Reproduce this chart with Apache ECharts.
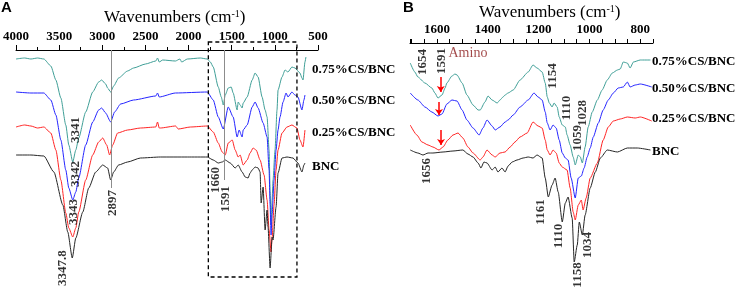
<!DOCTYPE html>
<html>
<head>
<meta charset="utf-8">
<script src="https://cdn.jsdelivr.net/npm/echarts@6/dist/echarts.min.js"></script>
<style>
html, body { margin: 0; padding: 0; background: #fff; }
#chart { width: 737px; height: 290px; }
</style>
</head>
<body>
<div id="chart"></div>
<script>
// FTIR spectra: [wavenumber cm-1, transmittance (a.u., stacked)]
var seriesNames = ['0.75%CS/BNC', '0.50%CS/BNC', '0.25%CS/BNC', 'BNC'];

// panel A, 4000-650 cm-1
var tealA = [[4000,241],[3900,242],[3827,241],[3750,242],[3677,241],[3596,234],[3538,220],[3480,202],[3423,175],[3388,155],[3342,138],[3307,150],[3273,162],[3192,188],[3111,208],[3042,218],[3007,220],[2961,216],[2938,212],[2903,208],[2868,214],[2811,222],[2707,229],[2637,232],[2499,236],[2380,239],[2360,242],[2340,238],[2300,240],[2152,239],[2100,241],[2080,238],[2014,241],[1864,242],[1783,241],[1748,238],[1714,233],[1656,213],[1621,203],[1598,195],[1575,205],[1540,212],[1506,213],[1483,207],[1437,190],[1425,198],[1402,195],[1379,192],[1367,197],[1321,203],[1263,220],[1229,227],[1194,223],[1148,203],[1113,190],[1090,183],[1067,150],[1055,110],[1044,75],[1032,100],[1021,120],[998,150],[975,190],[963,210],[917,223],[882,230],[848,228],[802,233],[767,232],[709,227],[686,222],[674,220],[651,238],[640,243]];
var blueA = [[4000,208],[3827,207],[3677,207],[3596,200],[3538,185],[3480,160],[3423,130],[3388,112],[3342,100],[3307,108],[3273,122],[3192,155],[3111,178],[3042,190],[3007,192],[2961,187],[2903,178],[2857,188],[2788,196],[2637,200],[2380,204],[2360,207],[2340,203],[2152,207],[1783,208],[1714,200],[1656,183],[1598,171],[1540,193],[1483,183],[1437,163],[1414,170],[1379,163],[1367,170],[1321,175],[1263,193],[1229,198],[1194,192],[1136,177],[1090,163],[1067,130],[1055,95],[1044,65],[1032,85],[1009,120],[986,150],[963,170],[940,183],[905,198],[870,207],[848,203],[802,208],[767,205],[732,203],[686,190],[663,200],[651,205]];
var redA = [[4000,173],[3900,175],[3827,174],[3750,172],[3677,173],[3596,167],[3538,150],[3480,120],[3423,87],[3388,72],[3342,63],[3307,72],[3273,88],[3192,120],[3111,145],[3042,158],[2995,162],[2949,155],[2915,145],[2880,155],[2822,167],[2707,170],[2557,172],[2380,173],[2360,178],[2340,172],[2326,172],[2150,174],[2120,171],[1979,173],[1783,174],[1714,168],[1656,157],[1610,148],[1575,145],[1540,157],[1494,160],[1460,150],[1425,143],[1402,145],[1367,135],[1321,140],[1287,147],[1252,152],[1217,150],[1171,140],[1125,125],[1090,100],[1067,70],[1044,48],[1032,62],[1009,95],[986,130],[963,150],[917,167],[859,173],[802,175],[744,172],[709,160],[674,153],[651,170]];
var blackA = [[4000,145],[3827,145],[3677,144],[3561,128],[3457,95],[3400,68],[3348,42],[3307,62],[3226,88],[3157,112],[3076,128],[2995,135],[2938,132],[2903,120],[2868,128],[2811,135],[2707,138],[2557,142],[2326,143],[2014,143],[1783,143],[1714,140],[1656,137],[1610,138],[1575,140],[1517,137],[1460,132],[1425,135],[1379,128],[1344,123],[1310,122],[1287,127],[1263,130],[1229,133],[1194,132],[1171,128],[1159,97],[1136,113],[1113,70],[1090,90],[1079,73],[1055,32],[1032,63],[1021,60],[986,93],[963,127],[917,142],[859,143],[790,142],[732,137],[686,128],[663,135],[651,137]];

// panel B, 1705-755 cm-1
var tealB = [[1705,237],[1687,228],[1675,223],[1647,217],[1620,212],[1608,207],[1596,202],[1580,205],[1568,212],[1561,217],[1541,224],[1529,226],[1521,225],[1501,217],[1482,205],[1458,195],[1438,190],[1430,190],[1411,198],[1399,204],[1383,200],[1363,197],[1352,200],[1340,203],[1332,205],[1320,207],[1300,210],[1273,220],[1241,228],[1222,235],[1206,232],[1186,228],[1174,217],[1166,203],[1158,197],[1147,193],[1139,197],[1127,193],[1119,183],[1107,175],[1095,173],[1088,165],[1076,155],[1064,143],[1056,135],[1044,145],[1036,143],[1028,137],[1017,153],[1005,173],[989,188],[969,200],[950,210],[930,220],[910,227],[890,230],[879,231],[867,238],[851,237],[840,232],[827,238],[800,240],[760,240]];
var blueB = [[1705,207],[1675,200],[1647,193],[1620,188],[1596,184],[1580,186],[1561,196],[1541,200],[1521,199],[1501,190],[1482,180],[1458,172],[1434,165],[1419,172],[1403,180],[1383,174],[1371,170],[1352,173],[1332,178],[1320,180],[1300,185],[1273,193],[1241,200],[1218,207],[1202,203],[1186,200],[1174,188],[1166,177],[1155,170],[1143,175],[1131,172],[1119,160],[1107,147],[1095,142],[1084,140],[1072,122],[1056,102],[1044,122],[1032,124],[1021,132],[1009,143],[997,152],[985,163],[965,177],[946,190],[926,200],[906,207],[887,212],[867,213],[851,218],[840,213],[820,215],[800,216],[755,213]];
var redB = [[1705,175],[1679,165],[1659,158],[1635,155],[1616,153],[1592,150],[1576,153],[1557,160],[1537,165],[1517,167],[1498,162],[1478,153],[1458,147],[1430,140],[1419,143],[1403,150],[1383,145],[1371,143],[1352,147],[1332,148],[1312,153],[1293,158],[1273,163],[1245,167],[1222,178],[1202,174],[1186,172],[1174,160],[1166,150],[1155,145],[1143,150],[1131,147],[1119,137],[1107,133],[1088,130],[1076,112],[1064,88],[1056,80],[1044,95],[1032,100],[1025,90],[1013,102],[997,122],[969,137],[946,160],[926,173],[906,179],[879,181],[851,183],[820,182],[800,183],[755,179]];
var blackB = [[1705,150],[1675,147],[1655,145],[1635,147],[1616,147],[1576,148],[1537,149],[1498,150],[1478,146],[1458,143],[1438,137],[1427,132],[1415,138],[1403,137],[1383,130],[1371,133],[1360,128],[1344,132],[1332,128],[1320,134],[1304,138],[1285,140],[1261,142],[1241,143],[1222,142],[1206,145],[1186,142],[1174,122],[1162,103],[1147,115],[1135,122],[1123,108],[1107,78],[1095,97],[1084,103],[1068,82],[1060,38],[1048,55],[1040,78],[1028,65],[1017,85],[997,112],[977,128],[957,142],[930,150],[890,148],[851,152],[812,152],[760,150]];

var tickLabelsB = [800, 1000, 1200, 1400, 1600];

// peak annotations: [text, wavenumber, value]
var peaksA = [['3341',3307,170],['3342',3307,126],['3343',3330,88],['3347.8',3457,32],['2897',2880,97],['1660',1691,120],['1591',1575,101]];
var peaksB = [['1654',1655,238],['1591',1580,239],['1154',1143,224],['1110',1088,192],['1028',1025,187],['1059',1048,162],['1656',1639,129],['1161',1194,88],['1110',1123,64],['1158',1048,25],['1034',1009,55]];
var guideA = [[2897,112],[1591,120]];          // gray guide lines [wavenumber, bottom value]
var arrowsB = [[1585,223,208],[1592,198,185],[1584,170,155]];  // amino arrows [wn, from, to]
var boxA = [[1771,258],[744,23]];              // dashed zoom box

var colors = ['#3f9f97', '#2424ff', '#ff2424', '#262626'];
var serif = '"Liberation Serif", "Times New Roman", serif';

var chart = echarts.init(document.getElementById('chart'), null, { renderer: 'canvas' });

function xAxisStyle(grid) {
  return {
    type: 'value', gridIndex: grid, position: 'top', inverse: true,
    axisLine: { show: true, lineStyle: { color: '#000', width: 1 } },
    axisTick: { show: true, inside: false, length: 5, lineStyle: { color: '#000' } },
    axisLabel: { color: '#000', fontFamily: serif, fontWeight: 'bold', fontSize: 13, margin: 7,
                 formatter: function (v) { return String(v); } },
    splitLine: { show: false }
  };
}

var xA = xAxisStyle(0);
xA.min = 500; xA.max = 4000; xA.interval = 500;
xA.minorTick = { show: true, splitNumber: 2, length: 3, lineStyle: { color: '#000' } };

var xB = xAxisStyle(1);
xB.min = 750; xB.max = 1706; xB.interval = 50;
xB.axisTick.length = 4;
xB.axisLabel.interval = 0;
xB.axisLabel.formatter = function (v) { return tickLabelsB.indexOf(v) >= 0 ? String(v) : ''; };

function spectrum(name, data, idx, grid) {
  return {
    name: name, type: 'line', data: data, xAxisIndex: grid, yAxisIndex: grid,
    showSymbol: false, smooth: 0.2, smoothMonotone: 'x', silent: true,
    lineStyle: { color: colors[idx], width: 1 }, itemStyle: { color: colors[idx] }
  };
}

function peakSeries(list, grid) {
  return {
    type: 'scatter', xAxisIndex: grid, yAxisIndex: grid, symbolSize: 0, silent: true, z: 5,
    data: list.map(function (p) { return { name: p[0], value: [p[1], p[2]] }; }),
    label: { show: true, position: 'inside', rotate: 90, formatter: '{b}', color: '#000',
             fontFamily: serif, fontWeight: 'bold', fontSize: 13 }
  };
}

var seriesList = [
  spectrum(seriesNames[0], tealA, 0, 0),
  spectrum(seriesNames[1], blueA, 1, 0),
  spectrum(seriesNames[2], redA, 2, 0),
  spectrum(seriesNames[3], blackA, 3, 0),
  spectrum(seriesNames[0], tealB, 0, 1),
  spectrum(seriesNames[1], blueB, 1, 1),
  spectrum(seriesNames[2], redB, 2, 1),
  spectrum(seriesNames[3], blackB, 3, 1),
  peakSeries(peaksA, 0),
  peakSeries(peaksB, 1),
  {
    type: 'scatter', xAxisIndex: 1, yAxisIndex: 1, symbolSize: 0, silent: true,
    data: [{ name: 'Amino', value: [1478, 247] }],
    label: { show: true, position: 'inside', formatter: '{b}', color: '#8b1a1a', fontFamily: serif, fontSize: 14 }
  }
];

// gray guide lines in A
seriesList[3].markLine = {
  silent: true, symbol: ['none', 'none'], label: { show: false },
  lineStyle: { color: '#8c8c8c', width: 1, type: 'solid' },
  data: guideA.map(function (g) { return [{ coord: [g[0], 250] }, { coord: [g[0], g[1]] }]; })
};
// red arrows in B
seriesList[6].markLine = {
  silent: true, symbol: ['none', 'arrow'], symbolSize: 6, label: { show: false },
  lineStyle: { color: '#ff0000', width: 1.5, type: 'solid' },
  data: arrowsB.map(function (a) { return [{ coord: [a[0], a[1]] }, { coord: [a[0], a[2]] }]; })
};

var titleStyle = {
  fontFamily: serif, fontWeight: 'normal', fontSize: 17, color: '#000',
  rich: { s: { fontFamily: serif, fontSize: 10, verticalAlign: 'top', color: '#000' } }
};

var option = {
  animation: false,
  backgroundColor: '#fff',
  title: [
    { text: 'A', left: 1, top: 0, padding: 0, textStyle: { fontFamily: '"Liberation Sans", Arial', fontWeight: 'bold', fontSize: 15, color: '#000' } },
    { text: 'B', left: 403, top: 0, padding: 0, textStyle: { fontFamily: '"Liberation Sans", Arial', fontWeight: 'bold', fontSize: 15, color: '#000' } },
    { text: 'Wavenumbers (cm{s|-1})', left: 104, top: 9, padding: 0, textStyle: titleStyle },
    { text: 'Wavenumbers (cm{s|-1})', left: 479, top: 4, padding: 0, textStyle: titleStyle }
  ],
  grid: [
    { left: 15, top: 50, width: 303, height: 240 },
    { left: 410, top: 43, width: 243, height: 247 }
  ],
  xAxis: [xA, xB],
  yAxis: [
    { type: 'value', gridIndex: 0, min: 10, max: 250, show: false },
    { type: 'value', gridIndex: 1, min: 10, max: 257, show: false }
  ],
  series: seriesList
};

chart.setOption(option);

// dashed box and series names
var p1 = chart.convertToPixel({ gridIndex: 0 }, boxA[0]);
var p2 = chart.convertToPixel({ gridIndex: 0 }, boxA[1]);
var labelFont = 'bold 13px ' + serif;
var labelPosA = [70, 101, 133, 167];
var labelPosB = [62, 89, 119, 152];
var graphics = [{
  type: 'rect', silent: true, z: 10,
  shape: { x: p1[0], y: p1[1], width: p2[0] - p1[0], height: p2[1] - p1[1] },
  style: { fill: 'none', stroke: '#000', lineWidth: 1.3, lineDash: [4, 3] }
}];
seriesNames.forEach(function (n, i) {
  graphics.push({ type: 'text', x: 312, y: labelPosA[i], silent: true,
    style: { text: n, font: labelFont, fill: '#000', verticalAlign: 'middle' } });
  graphics.push({ type: 'text', x: 652, y: labelPosB[i], silent: true,
    style: { text: n, font: labelFont, fill: '#000', verticalAlign: 'middle' } });
});
chart.setOption({ graphic: graphics });
</script>
</body>
</html>
